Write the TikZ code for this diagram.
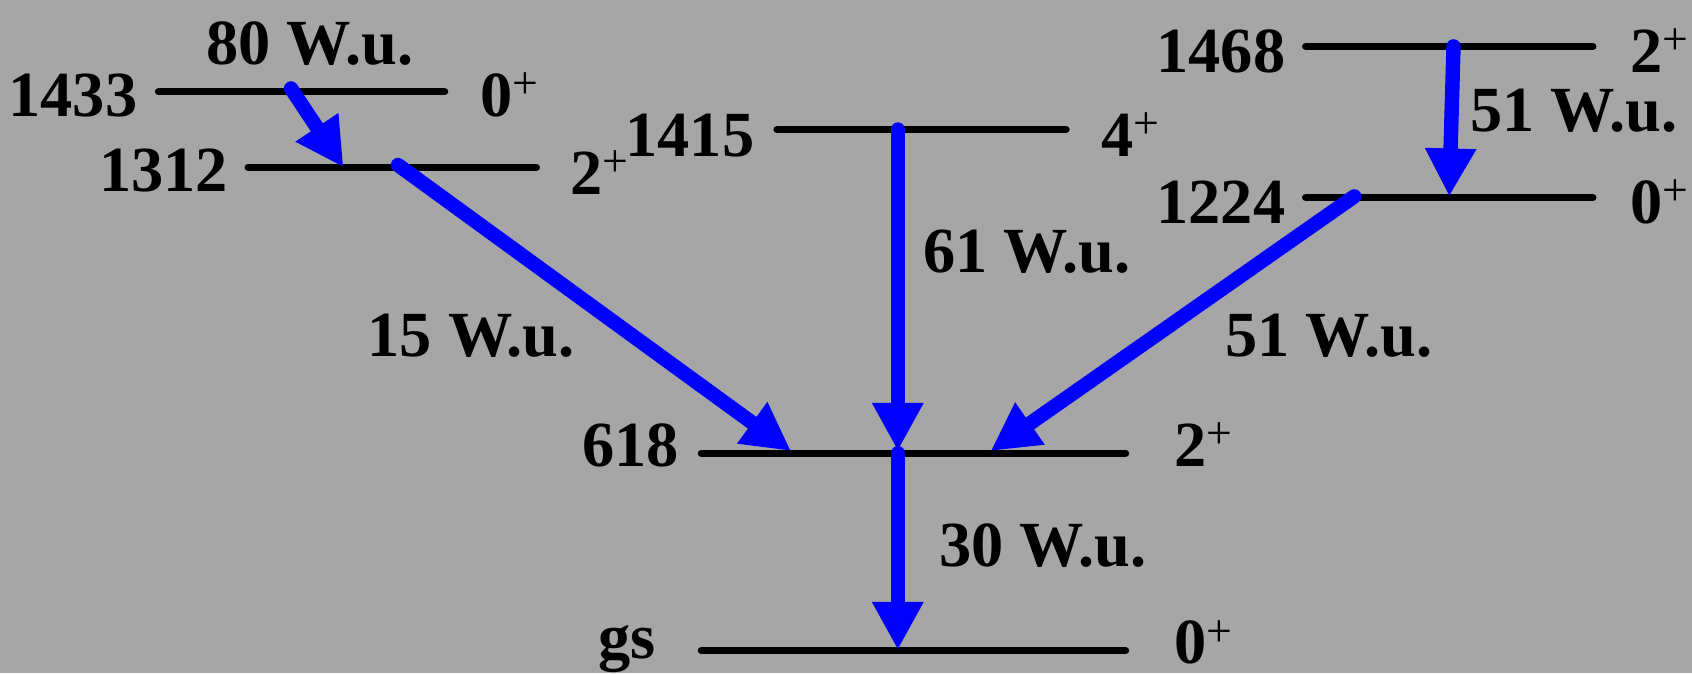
\documentclass[tikz,border=0pt]{standalone}
\usepackage{fontspec}
\setmainfont{Liberation Serif}
\usetikzlibrary{arrows.meta}
\definecolor{bgc}{RGB}{166,166,166}
\definecolor{tblue}{RGB}{0,0,255}
\newcommand{\spl}{{\fontsize{13}{13}\selectfont\mdseries\raisebox{5pt}{+}}}
\begin{document}
\begin{tikzpicture}[x=0.01cm,y=-0.01cm,
  level/.style={line width=2.1pt,line cap=round,black},
  trans/.style={line width=4.1pt,line cap=round,tblue,-{Triangle[length=0.48cm,width=0.48cm]}},
  lab/.style={font=\fontsize{18.3}{20}\selectfont\bfseries,inner sep=0pt,text=black},
]
\fill[bgc] (0,0) rectangle (1692,673);
\useasboundingbox (0,0) rectangle (1692,673);

% level end points
\coordinate (a1433) at (158.6,91.7);  \coordinate (b1433) at (444.6,91.7);
\coordinate (a1312) at (248.2,167.3); \coordinate (b1312) at (536.3,167.3);
\coordinate (a1415) at (777,129.5);   \coordinate (b1415) at (1066,129.5);
\coordinate (a1468) at (1305.7,46.4); \coordinate (b1468) at (1592.8,46.4);
\coordinate (a1224) at (1305.7,197.5);\coordinate (b1224) at (1592.8,197.5);
\coordinate (a618) at (701.4,453.2);  \coordinate (b618) at (1125.5,453.2);
\coordinate (ags) at (701.4,650.7);   \coordinate (bgs) at (1125.5,650.7);

\draw[level] (a1433) -- (b1433);
\draw[level] (a1312) -- (b1312);
\draw[level] (a1415) -- (b1415);
\draw[level] (a1468) -- (b1468);
\draw[level] (a1224) -- (b1224);
\draw[level] (a618) -- (b618);
\draw[level] (ags) -- (bgs);

% transition end points
\coordinate (s80) at (291,88.5);     \coordinate (e80) at (343.5,167.3);
\coordinate (s15) at (398,165);      \coordinate (e15) at (791,451);
\coordinate (s61) at (897.8,129.5);  \coordinate (e61) at (897.8,451);
\coordinate (s30) at (897.8,453.2);  \coordinate (e30) at (897.8,650);
\coordinate (s51a) at (1453.5,46.4); \coordinate (e51a) at (1449.2,196.5);
\coordinate (s51b) at (1354.3,196.4);\coordinate (e51b) at (990.6,451);

\draw[trans] (s80) -- (e80);
\draw[trans] (s15) -- (e15);
\draw[trans] (s61) -- (e61);
\draw[trans] (s30) -- (e30);
\draw[trans] (s51a) -- (e51a);
\draw[trans] (s51b) -- (e51b);

% energies
\node[lab,anchor=base east] (n1433) at (138,116.5) {1433};
\node[lab,anchor=base east] (n1312) at (228.8,192) {1312};
\node[lab,anchor=base east] (n1415) at (755,156.5) {1415};
\node[lab,anchor=base east] (n1468) at (1286,72.3) {1468};
\node[lab,anchor=base east] (n1224) at (1286,223.4) {1224};
\node[lab,anchor=base east] (n618) at (679.8,466) {618};
\node[lab,anchor=base east] (ngs) at (656,658) {gs};

% spins
\node[lab,anchor=base west] (j1433) at (480,116.5) {0\spl};
\node[lab,anchor=base west] (j1312) at (569.8,194) {2\spl};
\node[lab,anchor=base west] (j1415) at (1100.7,156.5) {4\spl};
\node[lab,anchor=base west] (j1468) at (1629.4,72.3) {2\spl};
\node[lab,anchor=base west] (j1224) at (1629.4,223.4) {0\spl};
\node[lab,anchor=base west] (j618) at (1174,466) {2\spl};
\node[lab,anchor=base west] (jgs) at (1174,663.6) {0\spl};

% strengths
\node[lab,anchor=base] (w80) at (309.7,64.7) {80 W.u.};
\node[lab,anchor=base west] (w15) at (366.9,356) {15 W.u.};
\node[lab,anchor=base west] (w61) at (922.6,272) {61 W.u.};
\node[lab,anchor=base west] (w51a) at (1469.7,131.6) {51 W.u.};
\node[lab,anchor=base west] (w51b) at (1224.8,356) {51 W.u.};
\node[lab,anchor=base west] (w30) at (938.8,566.5) {30 W.u.};
\end{tikzpicture}
\end{document}
